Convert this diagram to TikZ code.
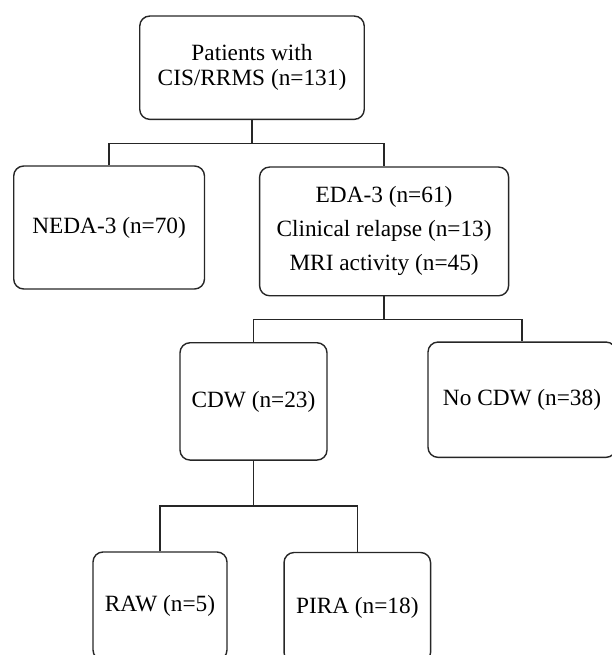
\documentclass[tikz,border=0pt]{standalone}
\usepackage{fontspec}
\setmainfont{Liberation Serif}
\begin{document}
\begin{tikzpicture}[x=1pt,y=-1pt,
  box/.style={draw=black!85, line width=1.4pt, rounded corners=10pt, align=center, inner sep=0pt,
    font=\fontsize{23.3}{25}\selectfont},
  conn/.style={draw=black!85, line width=1.4pt}]
\useasboundingbox (0,0) rectangle (612,655);
\node[box, minimum width=224.5pt, minimum height=103.3pt] (top) at (252,67.7) {Patients with\\CIS/RRMS (n=131)};
\node[box, minimum width=190.8pt, minimum height=123pt] (neda) at (109.1,227.5) {NEDA-3 (n=70)};
\node[box, minimum width=249pt, minimum height=128.7pt, font=\fontsize{23.3}{34}\selectfont] (eda) at (384.1,231.4) {EDA-3 (n=61)\\Clinical relapse (n=13)\\MRI activity (n=45)};
\node[box, minimum width=147pt, minimum height=117.3pt] (cdw) at (253.5,401.4) {CDW (n=23)};
\node[box, minimum width=188pt, minimum height=115.3pt] (nocdw) at (522,399.7) {No CDW (n=38)};
\node[box, minimum width=134pt, minimum height=108pt] (raw) at (160,606) {RAW (n=5)};
\node[box, minimum width=146.5pt, minimum height=110pt] (pira) at (357.3,607.5) {PIRA (n=18)};
\coordinate (j1) at (252,143.3);
\coordinate (j2) at (384.1,319.3);
\coordinate (j3) at (253.5,506);
\draw[conn] (top.south) -- (j1);
\draw[conn] (neda.north) |- (j1) -| (eda.north);
\draw[conn] (eda.south) -- (j2);
\draw[conn] (cdw.north) |- (j2) -| (nocdw.north);
\draw[conn] (cdw.south) -- (j3);
\draw[conn] (raw.north) |- (j3) -| (pira.north);
\end{tikzpicture}
\end{document}
